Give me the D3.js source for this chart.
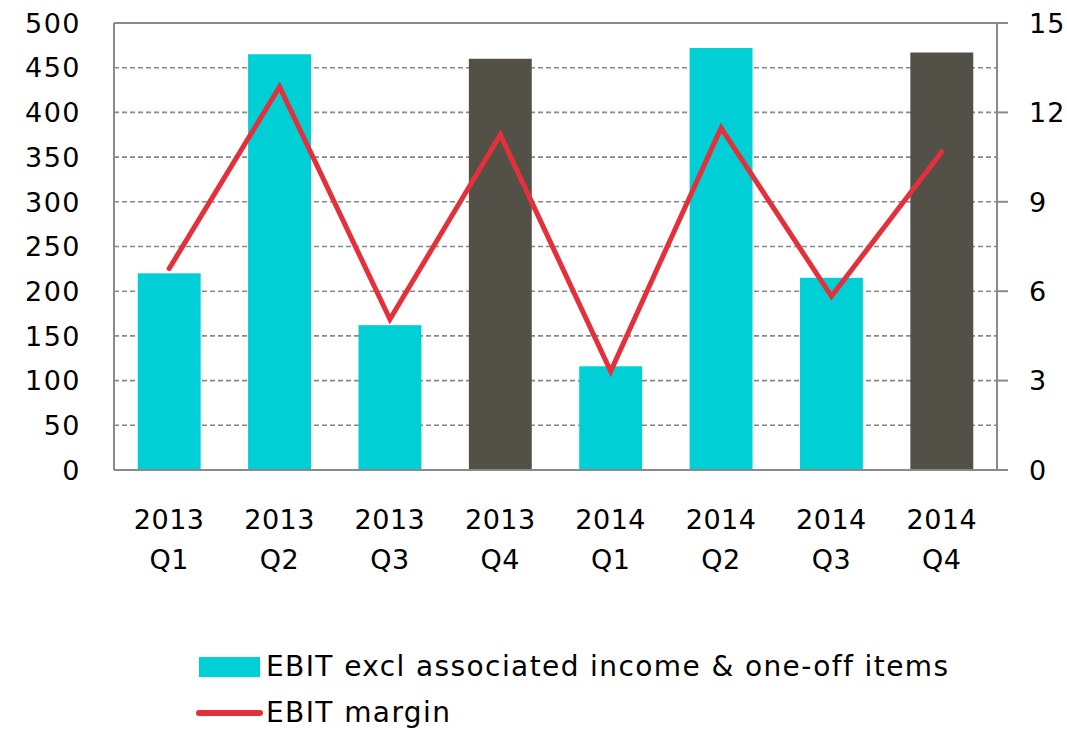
<!DOCTYPE html>
<html>
<head>
<meta charset="utf-8">
<script src="https://d3js.org/d3.v7.min.js"></script>
<style>
body { margin: 0; background: #fff; }
text { font-family: "DejaVu Sans", sans-serif; fill: #000; }
</style>
</head>
<body>
<script>
var years = ["2013","2013","2013","2013","2014","2014","2014","2014"];
var quarters = ["Q1","Q2","Q3","Q4","Q1","Q2","Q3","Q4"];
var ebit = [220, 465, 162, 460, 116, 472, 215, 467];
var margin = [6.76, 12.86, 5.06, 11.25, 3.31, 11.48, 5.83, 10.68];
var barColors = ["#00d0d5","#00d0d5","#00d0d5","#535048","#00d0d5","#00d0d5","#00d0d5","#535048"];
var leftTicks = [0,50,100,150,200,250,300,350,400,450,500];
var rightTicks = [0,3,6,9,12,15];
var legendLabels = ["EBIT excl associated income & one-off items", "EBIT margin"];

var W = 1067, H = 730;
var x0 = 114, x1 = 997, yTop = 23, yBot = 470;
var fs = "27px";

var svg = d3.select("body").append("svg").attr("width", W).attr("height", H);

var idx = d3.range(years.length);
var x = d3.scaleBand().domain(idx).range([x0, x1]).paddingInner(0.43).paddingOuter(0.215);
var xc = d3.scaleBand().domain(idx).range([x0, x1]);
var yL = d3.scaleLinear().domain([0, 500]).range([yBot, yTop]);
var yR = d3.scaleLinear().domain([0, 15]).range([yBot, yTop]);

// gridlines
svg.append("g").selectAll("line").data(leftTicks.filter(function(d){ return d > 0 && d < 500; }))
  .enter().append("line")
  .attr("x1", x0).attr("x2", x1)
  .attr("y1", function(d){ return yL(d); }).attr("y2", function(d){ return yL(d); })
  .attr("stroke", "#888").attr("stroke-width", 1.6).attr("stroke-dasharray", "5,3");

// bars
svg.append("g").selectAll("rect").data(ebit).enter().append("rect")
  .attr("x", function(d, i){ return x(i); })
  .attr("width", x.bandwidth())
  .attr("y", function(d){ return yL(d); })
  .attr("height", function(d){ return yBot - yL(d); })
  .attr("fill", function(d, i){ return barColors[i]; });

// frame
var frame = svg.append("g").attr("stroke", "#8a8a8a").attr("stroke-width", 2);
frame.append("line").attr("x1", x0).attr("x2", x0).attr("y1", yTop).attr("y2", yBot);
frame.append("line").attr("x1", x1).attr("x2", x1).attr("y1", yTop).attr("y2", yBot);
frame.append("line").attr("x1", x0).attr("x2", x1 + 11).attr("y1", yTop).attr("y2", yTop);
frame.append("line").attr("x1", x0).attr("x2", x1 + 11).attr("y1", yBot).attr("y2", yBot);
frame.selectAll(".rt").data(rightTicks).enter().append("line")
  .attr("x1", x1).attr("x2", x1 + 11)
  .attr("y1", function(d){ return yR(d); }).attr("y2", function(d){ return yR(d); });

// left axis labels
svg.append("g").selectAll("text").data(leftTicks).enter().append("text")
  .attr("x", 81).attr("y", function(d){ return yL(d); }).attr("dy", "0.36em")
  .attr("text-anchor", "end").style("font-size", fs).style("letter-spacing", "1.5px")
  .text(function(d){ return d; });

// right axis labels
svg.append("g").selectAll("text").data(rightTicks).enter().append("text")
  .attr("x", 1029).attr("y", function(d){ return yR(d); }).attr("dy", "0.36em")
  .attr("text-anchor", "start").style("font-size", fs).style("letter-spacing", "1px")
  .text(function(d){ return d; });

// category labels
var cat = svg.append("g").selectAll("g").data(idx).enter().append("g")
  .attr("transform", function(i){ return "translate(" + (xc(i) + xc.bandwidth() / 2) + ",0)"; });
cat.append("text").attr("y", 529).attr("text-anchor", "middle").style("font-size", fs).style("letter-spacing", "0.5px")
  .text(function(i){ return years[i]; });
cat.append("text").attr("y", 569).attr("text-anchor", "middle").style("font-size", fs).style("letter-spacing", "0.5px")
  .text(function(i){ return quarters[i]; });

// margin line
var line = d3.line()
  .x(function(d, i){ return xc(i) + xc.bandwidth() / 2; })
  .y(function(d){ return yR(d); });
svg.append("path").datum(margin).attr("d", line)
  .attr("fill", "none").attr("stroke", "#e3303a").attr("stroke-width", 5)
  .attr("stroke-linecap", "round").attr("stroke-linejoin", "miter");

// legend
var lg = svg.append("g").style("font-size", "28px").style("letter-spacing", "1.4px");
lg.append("rect").attr("x", 199).attr("y", 657).attr("width", 61).attr("height", 20).attr("fill", "#00d0d5");
lg.append("text").attr("x", 266).attr("y", 676).text(legendLabels[0]);
lg.append("line").attr("x1", 199).attr("x2", 260).attr("y1", 713).attr("y2", 713)
  .attr("stroke", "#e3303a").attr("stroke-width", 6).attr("stroke-linecap", "round");
lg.append("text").attr("x", 266).attr("y", 722).text(legendLabels[1]);
</script>
</body>
</html>
